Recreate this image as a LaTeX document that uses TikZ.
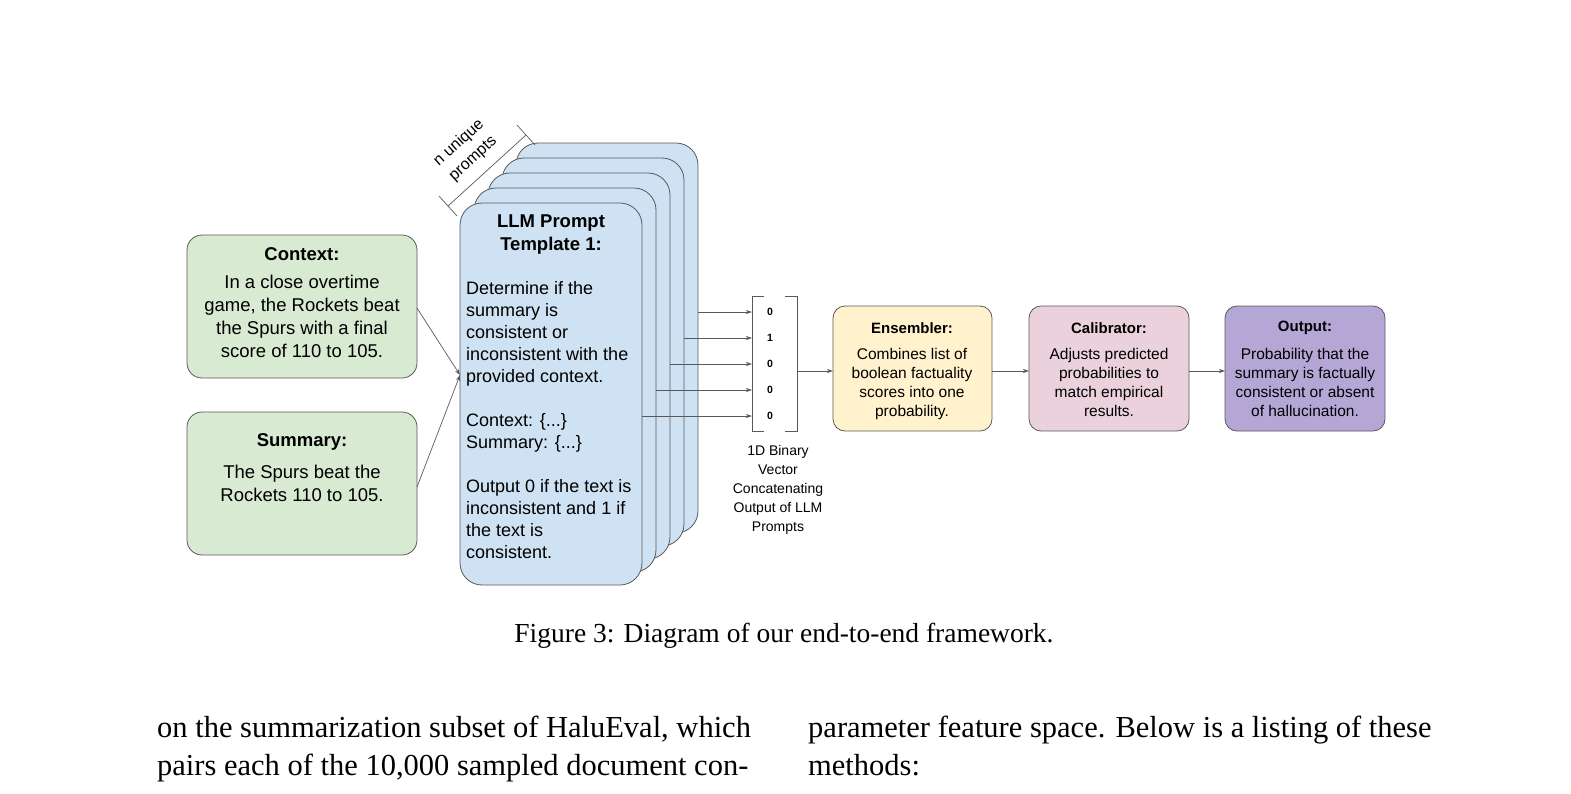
\documentclass[tikz,border=0pt]{standalone}
\usepackage{fontspec}
\setmainfont{Liberation Sans}
\newfontfamily\serif{Liberation Serif}
\usetikzlibrary{arrows.meta,positioning}
\definecolor{ctxgreen}{HTML}{D9EAD3}
\definecolor{tplblue}{HTML}{CFE2F3}
\definecolor{ensyellow}{HTML}{FFF2CC}
\definecolor{calpink}{HTML}{EAD1DC}
\definecolor{outpurple}{HTML}{B4A7D6}
\definecolor{edgegray}{HTML}{595959}

\begin{document}
\begin{tikzpicture}[x=1pt, y=-1pt,
  inbox/.style={draw=edgegray, rounded corners=15pt, line width=0.8pt},
  card/.style={draw=edgegray, fill=tplblue, rounded corners=22pt, line width=0.8pt},
  stagebox/.style={draw=edgegray, rounded corners=12pt, line width=0.8pt},
  flow/.style={-{Stealth[length=6pt,width=4pt]}, draw=edgegray, line width=0.7pt},
  bit/.style={font=\fontsize{10.5}{12}\selectfont\bfseries},
]
\useasboundingbox (0,0) rectangle (1571,793);

% input boxes
\draw[inbox, fill=ctxgreen] (187,235) rectangle (417,378);
\node[font=\fontsize{18.5}{21}\selectfont\bfseries] (ctxhead) at (302,254) {Context:};
\node[font=\fontsize{18.5}{23}\selectfont, align=center, anchor=north] (ctx) at (302,272)
  {In a close overtime\\game, the Rockets beat\\the Spurs with a final\\score of 110 to 105.};
\coordinate (ctxout) at (417,308);

\draw[inbox, fill=ctxgreen] (187,412) rectangle (417,555);
\node[font=\fontsize{18.5}{21}\selectfont\bfseries] (sumhead) at (302,442) {Summary:};
\node[font=\fontsize{18.5}{23}\selectfont, align=center, anchor=north] (sum) at (302,462)
  {The Spurs beat the\\Rockets 110 to 105.};
\coordinate (sumout) at (417,487);

% stack of prompt templates
\foreach \k/\r in {4/698,3/684,2/670,1/656}
  \draw[card] (460+14*\k,203-15*\k) rectangle (\r,585-13*\k);
\draw[card] (460,203) rectangle (642,585);
\coordinate (tplin) at (460,375);
\node[font=\fontsize{18.5}{23}\selectfont\bfseries, align=center] (tplhead) at (551,235)
  {LLM Prompt\\Template 1:};
\node[font=\fontsize{18}{22}\selectfont, align=left, anchor=north west, inner sep=0pt] (tpl) at (466,281)
  {Determine if the\\summary is\\consistent or\\inconsistent with the\\provided context.\\[22pt]
   Context: \{...\}\\Summary: \{...\}\\[22pt]Output 0 if the text is\\inconsistent and 1 if\\the text is\\consistent.};

% n unique prompts
\coordinate (nbA) at (448,206);
\coordinate (nbB) at (526,135);
\draw[edgegray, line width=0.7pt] (nbA) -- (nbB);
\draw[edgegray, line width=0.7pt] (439,196) -- (457,216);
\draw[edgegray, line width=0.7pt] (517,125) -- (535,145);
\node[font=\fontsize{16}{21}\selectfont, align=center, rotate=42, inner sep=0pt] (nlabel) at (466,151)
  {n unique\\prompts};

% binary vector
\draw[edgegray, line width=0.8pt] (764,296) -- (752,296) -- (752,431) -- (764,431);
\draw[edgegray, line width=0.8pt] (785,296) -- (797,296) -- (797,431) -- (785,431);
\foreach \y/\b/\x in {312/0/698,338/1/684,364/0/670,390/0/656,416/0/642} {
  \node[bit] (b\y) at (770,\y) {\b};
  \coordinate (s\y) at (\x,\y);
  \draw[flow] (s\y) -- (752,\y);
}
\coordinate (vecout) at (797,371);
\node[font=\fontsize{14}{19}\selectfont, align=center, anchor=north] (veclab) at (778,442)
  {1D Binary\\Vector\\Concatenating\\Output of LLM\\Prompts};

% stages
\draw[stagebox, fill=ensyellow] (833,306) rectangle (992,431);
\node[font=\fontsize{15}{18}\selectfont\bfseries] (enshead) at (912,328) {Ensembler:};
\node[font=\fontsize{15.5}{19}\selectfont, align=center, anchor=north] (ens) at (912,345)
  {Combines list of\\boolean factuality\\scores into one\\probability.};
\coordinate (ensin) at (833,371);
\coordinate (ensout) at (992,371);

\draw[stagebox, fill=calpink] (1029,306) rectangle (1189,431);
\node[font=\fontsize{15}{18}\selectfont\bfseries] (calhead) at (1109,328) {Calibrator:};
\node[font=\fontsize{15.5}{19}\selectfont, align=center, anchor=north] (cal) at (1109,345)
  {Adjusts predicted\\probabilities to\\match empirical\\results.};
\coordinate (calin) at (1029,371);
\coordinate (calout) at (1189,371);

\draw[stagebox, fill=outpurple] (1225,306) rectangle (1385,431);
\node[font=\fontsize{15}{18}\selectfont\bfseries] (outhead) at (1305,328) {Output:};
\node[font=\fontsize{15.5}{19}\selectfont, align=center, anchor=north] (out) at (1305,345)
  {Probability that the\\summary is factually\\consistent or absent\\of hallucination.};
\coordinate (outin) at (1225,371);

% connectors
\draw[flow] (ctxout) -- (tplin);
\draw[flow] (sumout) -- (tplin);
\draw[flow] (vecout) -- (ensin);
\draw[flow] (ensout) -- (calin);
\draw[flow] (calout) -- (outin);

% caption and body text
\node[font=\serif\fontsize{27.5}{30}\selectfont] (caption) at (784,636)
  {Figure 3: Diagram of our end-to-end framework.};
\node[font=\serif\fontsize{30.5}{38}\selectfont, align=left, anchor=north west, inner sep=0pt] (colleft) at (157,716)
  {on the summarization subset of HaluEval, which\\pairs each of the 10,000 sampled document con-};
\node[font=\serif\fontsize{30.5}{38}\selectfont, align=left, anchor=north west, inner sep=0pt] (colright) at (808,716)
  {parameter feature space. Below is a listing of these\\methods:};
\end{tikzpicture}
\end{document}
